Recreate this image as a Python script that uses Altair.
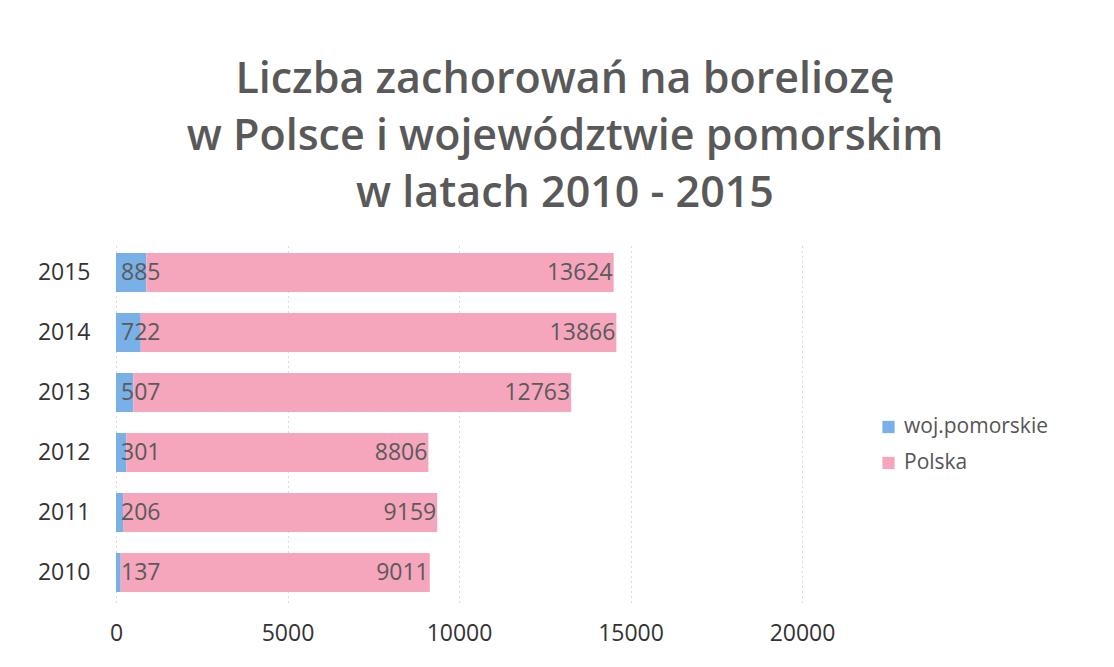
import altair as alt
import pandas as pd

years = ["2015", "2014", "2013", "2012", "2011", "2010"]
pomorskie = [885, 722, 507, 301, 206, 137]
polska = [13624, 13866, 12763, 8806, 9159, 9011]
series_names = ["woj.pomorskie", "Polska"]
series_colors = ["#79b0e8", "#f5a6bd"]
x_ticks = [0, 5000, 10000, 15000, 20000]
title_lines = ["Liczba zachorowań na boreliozę",
               "w Polsce i województwie pomorskim",
               "w latach 2010 - 2015"]

rows = []
for y, a, b in zip(years, pomorskie, polska):
    rows.append({"year": y, "series": series_names[0], "order": 0,
                 "value": a, "start": 0, "end": a})
    rows.append({"year": y, "series": series_names[1], "order": 1,
                 "value": b, "start": a, "end": a + b})
df = pd.DataFrame(rows)

FONT = "Open Sans"

y_enc = alt.Y("year:N", sort=years, title=None,
              scale=alt.Scale(paddingInner=0.35, paddingOuter=0.175),
              axis=alt.Axis(domain=False, ticks=False, labelPadding=26,
                            labelFont=FONT, labelFontSize=23,
                            labelColor="#333333", grid=False))
x_scale = alt.Scale(domain=[0, 20000], nice=False)

bars = alt.Chart(df).mark_bar().encode(
    y=y_enc,
    x=alt.X("start:Q", scale=x_scale, title=None,
            axis=alt.Axis(values=x_ticks, format="d", domain=False,
                          ticks=False, labelPadding=20, labelFont=FONT,
                          labelFontSize=23, labelColor="#333333", grid=True,
                          gridColor="#dadada", gridDash=[2, 3],
                          labelFlush=False)),
    x2="end:Q",
    color=alt.Color("series:N",
                    scale=alt.Scale(domain=series_names, range=series_colors),
                    legend=alt.Legend(title=None, orient="none",
                                      legendX=762, legendY=174,
                                      symbolType="square", symbolSize=150,
                                      symbolStrokeWidth=0,
                                      labelFont=FONT, labelFontSize=21,
                                      labelColor="#555555", rowPadding=14,
                                      labelOffset=5)),
)

text_small = alt.Chart(df[df["order"] == 0]).mark_text(
    align="left", baseline="middle", dx=5, font=FONT, fontSize=23,
    color="#5a5a5a"
).encode(y=alt.Y("year:N", sort=years), x=alt.X("start:Q", scale=x_scale),
         text="value:Q")

text_big = alt.Chart(df[df["order"] == 1]).mark_text(
    align="right", baseline="middle", dx=-1, font=FONT, fontSize=23,
    color="#5a5a5a"
).encode(y=alt.Y("year:N", sort=years), x=alt.X("end:Q", scale=x_scale),
         text="value:Q")

chart = alt.layer(bars, text_small, text_big).properties(
    width=686, height=360,
    background="white",
    autosize=alt.AutoSizeParams(type="none"),
    padding={"left": 108, "top": 234.5, "right": 304, "bottom": 56},
    title=alt.TitleParams(text=title_lines, font=FONT, fontSize=43,
                          fontWeight=600, color="#595959", lineHeight=57,
                          anchor="middle", dx=106, offset=27),
).configure_view(strokeWidth=0)

chart.save("out.html", embed_options={"renderer": "svg", "actions": False})
